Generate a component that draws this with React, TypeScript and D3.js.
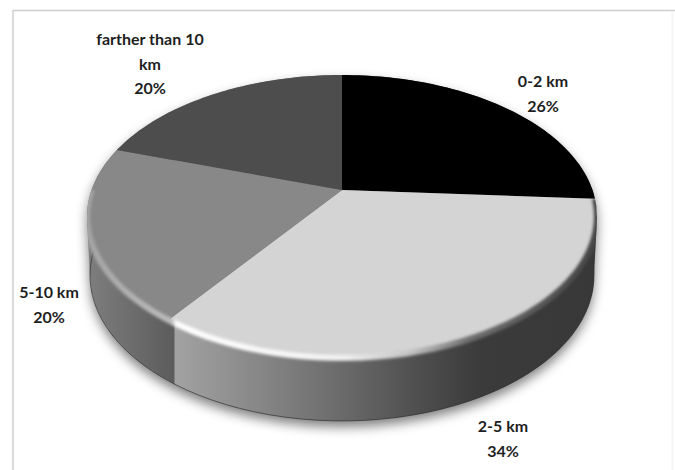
import React from "react";
import * as d3 from "d3";

// Distance bands and their share of trips, in percent.
const categories = ["0-2 km", "2-5 km", "5-10 km", "farther than 10 km"];
const shares = [26, 34, 20, 20];
const topColors = ["#000000", "#d4d4d4", "#888888", "#4d4d4d"];
const labelLines = [["0-2 km"], ["2-5 km"], ["5-10 km"], ["farther than 10", "km"]];

const W = 675;
const H = 470;

// Layout of the tilted disc: apex of the slices, perspective strength, radii.
const APEX = { x: 342, y: 190 };
const SCALE_X = 250.5;
const SCALE_Y = 136.5;
const TILT = 0.187;
// Ellipse of the upper rim and of the lower rim of the disc.
const TOP_RIM = { cy: 216, rx: 255, ry: 141 };
const BOTTOM_RIM = { cy: 275, rx: 252, ry: 145 };

// Label anchors (centre x, first baseline), one per category.
const LABEL_POS: [number, number][] = [
  [543, 87],
  [503, 432],
  [49, 298],
  [150, 45],
];
const LINE_STEP = 24.7;

type Pt = [number, number];

// Point on the upper face for a pie angle (0 = up, clockwise) and radius share.
const project = (angle: number, r = 1): Pt => {
  const u = Math.sin(angle) * r;
  const v = -Math.cos(angle) * r;
  const d = 1 - TILT * v;
  return [APEX.x + (SCALE_X * u) / d, APEX.y + (SCALE_Y * v) / d];
};

// The same rim point carried down to the lower rim of the disc.
const dropToBase = ([x, y]: Pt): Pt => [
  APEX.x + ((x - APEX.x) * BOTTOM_RIM.rx) / TOP_RIM.rx,
  BOTTOM_RIM.cy + ((y - TOP_RIM.cy) * BOTTOM_RIM.ry) / TOP_RIM.ry,
];

const sampleAngles = (a0: number, a1: number) =>
  d3.range(0, 65).map((i) => a0 + ((a1 - a0) * i) / 64);

const line = d3.line<Pt>();

const pieAngles = d3
  .pie<number>()
  .sort(null)
  .value((d) => d)(shares);

const rimPoints = (a0: number, a1: number) => sampleAngles(a0, a1).map((a) => project(a));

const slicePath = (a0: number, a1: number) =>
  line([project(0, 0), ...rimPoints(a0, a1)]) + "Z";

const wallPath = (a0: number, a1: number) => {
  const top = rimPoints(a0, a1);
  return line([...top, ...top.map(dropToBase).reverse()]) + "Z";
};

const fullRim = rimPoints(0, 2 * Math.PI);
const hull = d3.polygonHull([...fullRim, ...fullRim.map(dropToBase)]) as Pt[];
const hullPath = line(hull) + "Z";

const [, nearSlice, leftSlice] = pieAngles;
// The bevel stops at the widest point of the disc on the left.
const rimEdge = line(rimPoints(nearSlice.startAngle, 1.5 * Math.PI)) as string;
const baseEdge = line(
  rimPoints(nearSlice.startAngle, leftSlice.endAngle).map(dropToBase)
) as string;

// Horizontal shading of the disc wall and of the bevelled rim.
const wallStops: [number, string][] = [
  [87, "#7e7e7e"],
  [174, "#5c5c5c"],
  [175, "#a2a2a2"],
  [250, "#8a8a8a"],
  [340, "#6b6b6b"],
  [420, "#4e4e4e"],
  [480, "#3b3b3b"],
  [597, "#383838"],
];
const bevelStops: [number, string][] = [
  [87, "#a4a4a4"],
  [172, "#bcbcbc"],
  [176, "#ffffff"],
  [340, "#f2f2f2"],
  [410, "#c4c4c4"],
  [470, "#6e6e6e"],
  [597, "#454545"],
];

const HGradient = ({ id, stops }: { id: string; stops: [number, string][] }) => {
  const toOffset = d3.scaleLinear().domain([87, 597]).range([0, 1]);
  return (
    <linearGradient id={id} gradientUnits="userSpaceOnUse" x1={87} x2={597} y1={0} y2={0}>
      {stops.map(([x, c]) => (
        <stop key={x} offset={toOffset(x)} stopColor={c} />
      ))}
    </linearGradient>
  );
};

export default function App() {
  return (
    <svg
      width={W}
      height={H}
      viewBox={`0 0 ${W} ${H}`}
      style={{ position: "absolute", left: 0, top: 0, background: "#fff" }}
    >
      <defs>
        <HGradient id="wall" stops={wallStops} />
        <HGradient id="bevel" stops={bevelStops} />
        <filter id="shadow" x="-20%" y="-20%" width="140%" height="140%">
          <feGaussianBlur stdDeviation={6} />
        </filter>
        <filter id="soft" x="-5%" y="-5%" width="110%" height="110%">
          <feGaussianBlur stdDeviation={1.8} />
        </filter>
        <clipPath id="discClip">
          <path d={hullPath} />
        </clipPath>
      </defs>

      {/* Frame */}
      <path d={`M13 470V10.5H${W}`} fill="none" stroke="#cfcfcf" strokeWidth={1.5} />
      <path d={`M672.5 12V470`} fill="none" stroke="#f6f6f6" strokeWidth={2} />

      {/* Cast shadow */}
      <path d={hullPath} transform="translate(0,6)" fill="#000" opacity={0.5} filter="url(#shadow)" />

      {/* Wall of the disc */}
      <path d={hullPath} fill="url(#wall)" />
      <path d={wallPath(nearSlice.startAngle, nearSlice.endAngle)} fill="url(#wall)" />
      <path d={baseEdge} fill="none" stroke="#333" strokeWidth={1} opacity={0.7} />

      {/* Upper face */}
      {pieAngles.map((p, i) => (
        <path key={categories[i]} d={slicePath(p.startAngle, p.endAngle)} fill={topColors[i]} />
      ))}

      {/* Bevelled rim */}
      <g clipPath="url(#discClip)">
        <path d={rimEdge} fill="none" stroke="url(#bevel)" strokeWidth={6} filter="url(#soft)" />
      </g>

      {/* Data labels */}
      {categories.map((c, i) => {
        const [x, y] = LABEL_POS[i];
        const lines = [...labelLines[i], `${shares[i]}%`];
        return (
          <text
            key={c}
            textAnchor="middle"
            fontFamily="Lato, 'Open Sans', sans-serif"
            fontWeight={700}
            fontSize={16}
            fill="#1e1e1e"
          >
            {lines.map((t, j) => (
              <tspan key={j} x={x} y={y + j * LINE_STEP}>
                {t}
              </tspan>
            ))}
          </text>
        );
      })}
    </svg>
  );
}
